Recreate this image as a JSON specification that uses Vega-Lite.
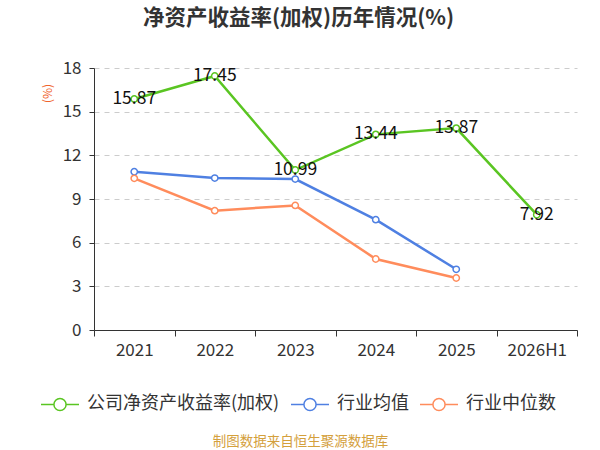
{
  "$schema": "https://vega.github.io/schema/vega-lite/v6.json",
  "width": 483,
  "height": 262,
  "autosize": {"type": "none"},
  "padding": {"left": 94, "top": 68, "right": 23, "bottom": 120},
  "background": "white",
  "title": {
    "text": "净资产收益率(加权)历年情况(%)",
    "fontSize": 21.5,
    "fontWeight": "bold",
    "color": "#333333",
    "font": "Noto Sans CJK SC",
    "anchor": "middle",
    "dx": -37,
    "offset": 30
  },
  "data": {
    "values": [
      {"year": "2021", "series": "公司净资产收益率(加权)", "value": 15.87},
      {"year": "2022", "series": "公司净资产收益率(加权)", "value": 17.45},
      {"year": "2023", "series": "公司净资产收益率(加权)", "value": 10.99},
      {"year": "2024", "series": "公司净资产收益率(加权)", "value": 13.44},
      {"year": "2025", "series": "公司净资产收益率(加权)", "value": 13.87},
      {"year": "2026H1", "series": "公司净资产收益率(加权)", "value": 7.92},
      {"year": "2021", "series": "行业均值", "value": 10.87},
      {"year": "2022", "series": "行业均值", "value": 10.44},
      {"year": "2023", "series": "行业均值", "value": 10.37},
      {"year": "2024", "series": "行业均值", "value": 7.58},
      {"year": "2025", "series": "行业均值", "value": 4.17},
      {"year": "2021", "series": "行业中位数", "value": 10.42},
      {"year": "2022", "series": "行业中位数", "value": 8.2},
      {"year": "2023", "series": "行业中位数", "value": 8.56},
      {"year": "2024", "series": "行业中位数", "value": 4.88},
      {"year": "2025", "series": "行业中位数", "value": 3.57}
    ]
  },
  "encoding": {
    "x": {
      "field": "year",
      "type": "nominal",
      "sort": ["2021", "2022", "2023", "2024", "2025", "2026H1"],
      "bandPosition": 0.5,
      "scale": {"type": "band", "paddingInner": 0, "paddingOuter": 0},
      "axis": {
        "title": "制图数据来自恒生聚源数据库",
        "titleColor": "#D4A03C",
        "titleFontSize": 13.5,
        "titleFontWeight": "normal",
        "titleFont": "Noto Sans CJK SC",
        "titleX": 206,
        "titleY": 111,
        "titleAlign": "center",
        "titleBaseline": "middle",
        "labelAngle": 0,
        "labelFontSize": 17,
        "labelColor": "#333333",
        "labelFont": "Noto Sans CJK SC",
        "labelPadding": 6,
        "tickBand": "extent",
        "tickSize": 6,
        "tickColor": "#333333",
        "domainColor": "#333333",
        "grid": false
      }
    },
    "y": {
      "field": "value",
      "type": "quantitative",
      "scale": {"domain": [0, 18]},
      "axis": {
        "values": [0, 3, 6, 9, 12, 15, 18],
        "title": "(%)",
        "titleColor": "#F0642E",
        "titleFontSize": 12,
        "titleFontWeight": "normal",
        "titleFont": "Noto Sans CJK SC",
        "titleAngle": -90,
        "titleX": -47,
        "titleY": 25,
        "titleAlign": "center",
        "titleBaseline": "middle",
        "labelFontSize": 17,
        "labelColor": "#333333",
        "labelFont": "Noto Sans CJK SC",
        "labelPadding": 8,
        "tickSize": 5,
        "tickColor": "#333333",
        "domainColor": "#333333",
        "gridColor": "#cccccc",
        "gridDash": [5, 5]
      }
    }
  },
  "layer": [
    {
      "mark": {
        "type": "line",
        "strokeWidth": 2.5,
        "point": {"filled": false, "fill": "white", "size": 40, "strokeWidth": 1.5}
      },
      "encoding": {
        "color": {
          "field": "series",
          "type": "nominal",
          "sort": ["公司净资产收益率(加权)", "行业均值", "行业中位数"],
          "scale": {
            "domain": ["公司净资产收益率(加权)", "行业均值", "行业中位数"],
            "range": ["#5AC522", "#4F80E2", "#FF8C5C"]
          },
          "legend": {
            "title": null,
            "orient": "none",
            "direction": "horizontal",
            "legendX": -54,
            "legendY": 316,
            "padding": 0,
            "labelFontSize": 18,
            "labelColor": "#333333",
            "labelFont": "Noto Sans CJK SC",
            "labelLimit": 400,
            "labelOffset": 7,
            "columnPadding": 8,
            "symbolType": "M-1,0L-0.32,0M0.32,0L1,0M-0.32,0A0.32,0.32 0 1,1 0.32,0A0.32,0.32 0 1,1 -0.32,0",
            "symbolSize": 1444,
            "symbolStrokeWidth": 1.5,
            "symbolFillColor": "white"
          }
        }
      }
    },
    {
      "transform": [{"filter": "datum.series === '公司净资产收益率(加权)'"}],
      "mark": {
        "type": "text",
        "fontSize": 17.5,
        "color": "#111111",
        "font": "Noto Sans CJK SC",
        "align": "center",
        "baseline": "middle"
      },
      "encoding": {"text": {"field": "value", "type": "quantitative", "format": ".2f"}}
    }
  ],
  "config": {"view": {"stroke": null}}
}
